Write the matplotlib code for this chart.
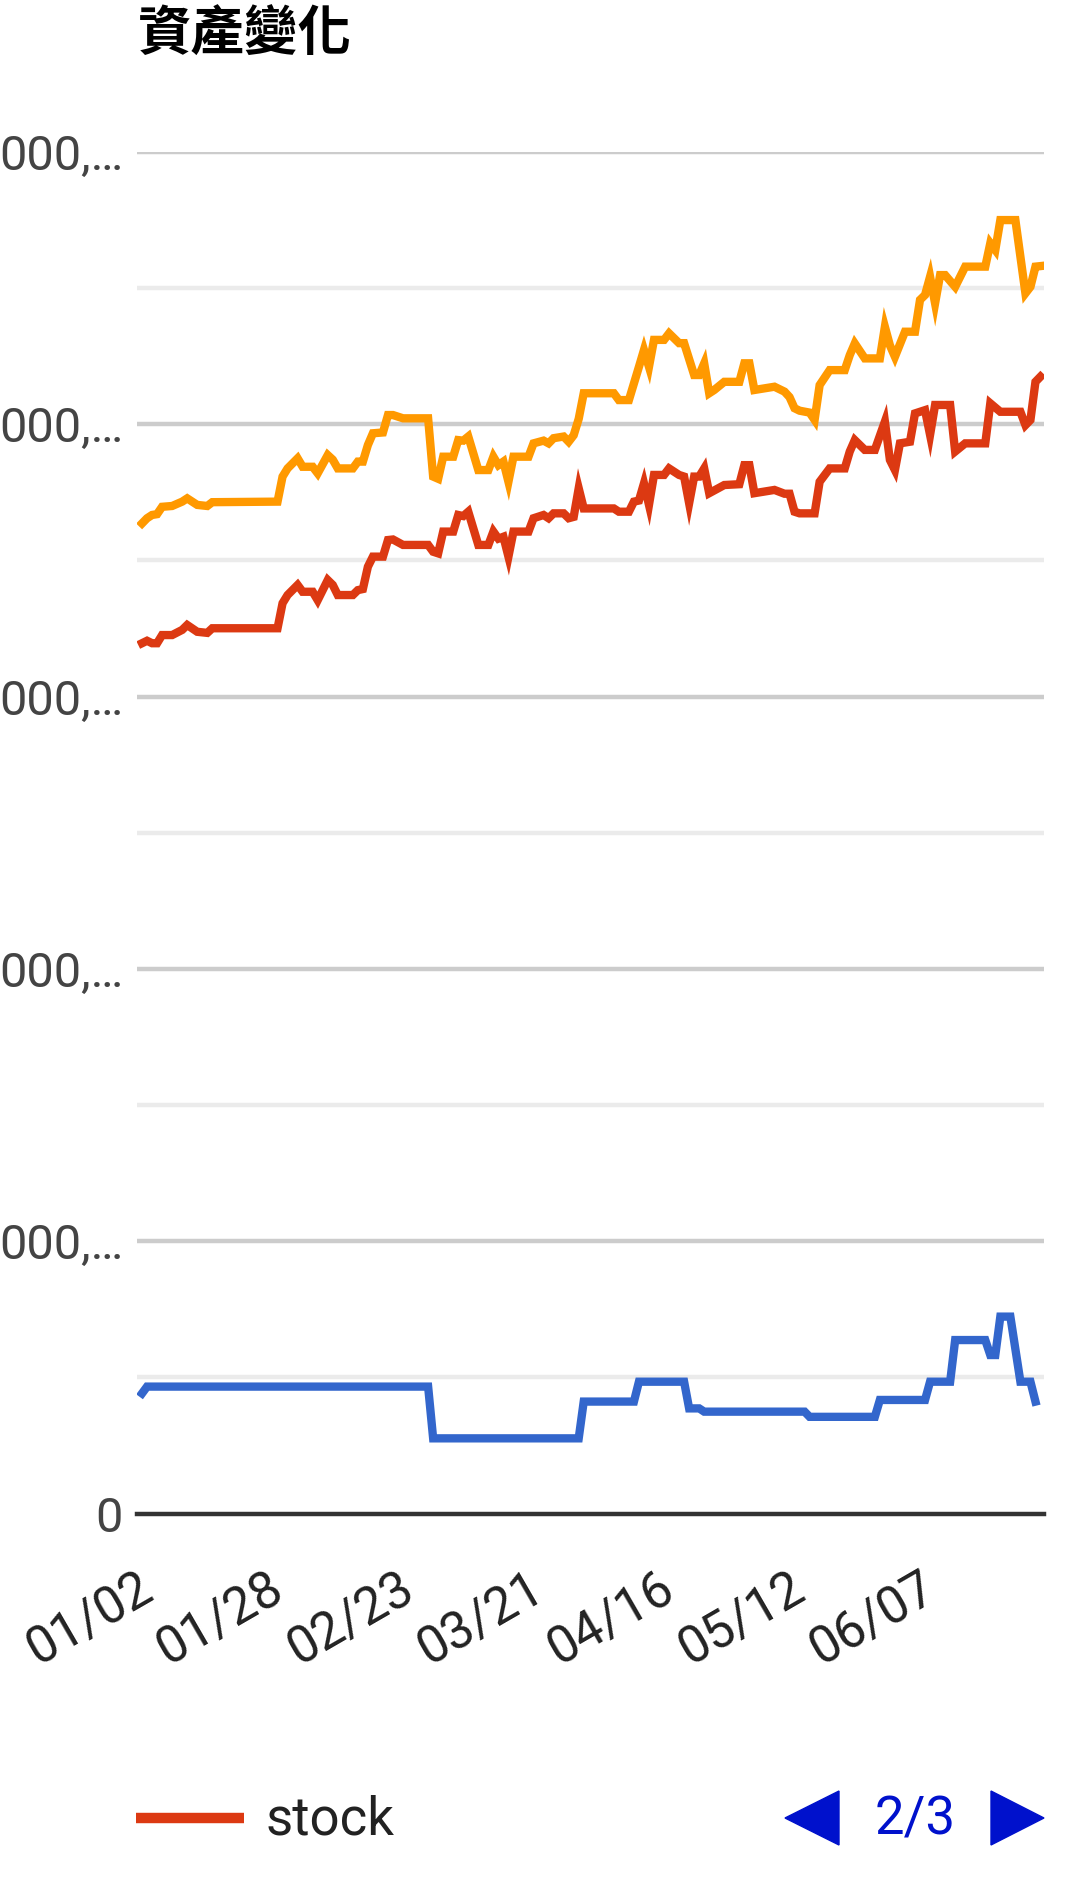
import matplotlib
matplotlib.use('Agg')
import matplotlib.pyplot as plt
from matplotlib.lines import Line2D
from matplotlib.patches import Polygon
from matplotlib.transforms import ScaledTranslation

plt.rcParams['font.family'] = ['Roboto', 'Noto Sans CJK TC', 'DejaVu Sans']

# days counted from 01/02, values in millions
total_days = [0, 1, 2, 3, 4, 6, 8, 9, 11, 13, 14, 27, 28, 29, 31, 32, 34, 35, 37, 38,
              39, 42, 43, 44, 45, 46, 48, 49, 50, 52, 57, 58, 59, 60, 62, 63, 64, 65, 67, 69,
              70, 71, 72, 73, 74, 77, 78, 80, 81, 82, 84, 85, 86, 87, 88, 94, 95, 97, 99, 100,
              101, 102, 104, 105, 107, 108, 110, 111, 112, 113, 114, 116, 119, 120, 121, 122, 126, 128, 129, 130,
              131, 133, 134, 135, 137, 140, 141, 142, 144, 147, 148, 149, 150, 152, 154, 155, 156, 157, 158, 159,
              160, 162, 163, 164, 168, 169, 170, 171, 174, 176, 177, 178, 179]
total_vals = [3.636, 3.655, 3.667, 3.670, 3.697, 3.700, 3.716, 3.728, 3.704, 3.700, 3.714, 3.716, 3.808, 3.838, 3.875, 3.844, 3.844, 3.820, 3.887, 3.870,
              3.838, 3.838, 3.863, 3.863, 3.924, 3.967, 3.970, 4.034, 4.034, 4.022, 4.022, 3.808, 3.800, 3.881, 3.881, 3.942, 3.940, 3.955, 3.832, 3.832,
              3.881, 3.850, 3.863, 3.789, 3.881, 3.881, 3.930, 3.940, 3.930, 3.949, 3.955, 3.936, 3.960, 4.020, 4.114, 4.114, 4.089, 4.089, 4.211, 4.273,
              4.211, 4.310, 4.310, 4.334, 4.298, 4.298, 4.181, 4.181, 4.224, 4.114, 4.126, 4.156, 4.156, 4.224, 4.224, 4.126, 4.138, 4.120, 4.100, 4.059,
              4.050, 4.043, 4.016, 4.144, 4.199, 4.199, 4.254, 4.297, 4.242, 4.242, 4.358, 4.290, 4.248, 4.340, 4.340, 4.457, 4.475, 4.542, 4.444, 4.548,
              4.548, 4.505, 4.542, 4.579, 4.579, 4.665, 4.640, 4.750, 4.750, 4.481, 4.505, 4.579, 4.581]

stock_days = [0, 1, 2, 3, 4, 6, 8, 9, 11, 13, 14, 27, 28, 29, 31, 32, 34, 35, 37, 38,
              39, 42, 43, 44, 45, 46, 48, 49, 50, 52, 57, 58, 59, 60, 62, 63, 64, 65, 67, 69,
              70, 71, 72, 73, 74, 77, 78, 80, 81, 82, 84, 85, 86, 87, 88, 94, 95, 97, 98, 99,
              100, 101, 102, 104, 105, 107, 108, 109, 110, 111, 112, 113, 116, 119, 120, 121, 122, 126, 128, 129,
              130, 131, 134, 135, 137, 140, 141, 142, 144, 146, 148, 149, 150, 151, 153, 154, 156, 157, 158, 161,
              162, 164, 168, 169, 171, 175, 176, 177, 178, 179]
stock_vals = [3.196, 3.205, 3.196, 3.196, 3.226, 3.226, 3.245, 3.263, 3.238, 3.234, 3.251, 3.251, 3.343, 3.373, 3.410, 3.385, 3.385, 3.354, 3.428, 3.410,
              3.373, 3.373, 3.391, 3.395, 3.477, 3.514, 3.514, 3.575, 3.577, 3.557, 3.557, 3.532, 3.526, 3.606, 3.606, 3.667, 3.663, 3.679, 3.557, 3.557,
              3.606, 3.580, 3.587, 3.514, 3.606, 3.606, 3.655, 3.667, 3.655, 3.673, 3.673, 3.655, 3.660, 3.765, 3.691, 3.691, 3.679, 3.679, 3.716, 3.720,
              3.783, 3.704, 3.814, 3.814, 3.838, 3.814, 3.808, 3.710, 3.808, 3.808, 3.838, 3.747, 3.777, 3.780, 3.850, 3.850, 3.747, 3.759, 3.745, 3.745,
              3.679, 3.673, 3.673, 3.789, 3.838, 3.838, 3.900, 3.942, 3.906, 3.906, 4.010, 3.869, 3.832, 3.930, 3.936, 4.040, 4.052, 3.961, 4.071, 4.071,
              3.900, 3.930, 3.930, 4.077, 4.046, 4.046, 3.997, 4.016, 4.156, 4.175]

cash_days = [0, 1, 57, 58, 87, 88, 98, 99, 108, 109, 111, 112, 132, 133, 146, 147, 156, 157, 161, 162,
             168, 169, 170, 171, 173, 175, 177, 178]
cash_vals = [0.441, 0.466, 0.466, 0.276, 0.276, 0.411, 0.411, 0.484, 0.484, 0.386, 0.386, 0.374, 0.374, 0.355, 0.355, 0.417, 0.417, 0.484, 0.484, 0.637,
             0.637, 0.582, 0.582, 0.723, 0.723, 0.484, 0.484, 0.411]

tick_days = [0, 26, 52, 78, 104, 130, 156]
tick_labels = ['01/02', '01/28', '02/23', '03/21', '04/16', '05/12', '06/07']
y_ticks = [0, 1, 2, 3, 4, 5]
# the screenshot only shows the truncated tail of the long labels
y_labels = ['0', '000,…', '000,…', '000,…', '000,…', '000,…']

W, H = 1080, 1887
fig = plt.figure(figsize=(W / 100, H / 100), dpi=100)
ax = fig.add_axes([137 / W, (H - 1513.5) / H, (1044 - 137) / W, (1513.5 - 152) / H])
ax.set_xlim(-1, 179.7)
ax.set_ylim(0, 5)

# gridlines
for v in [0.5, 1.5, 2.5, 3.5, 4.5]:
    ax.axhline(v, color='#ebebeb', lw=3.2, zorder=0)
for v in [1, 2, 3, 4, 5]:
    ax.axhline(v, color='#cccccc', lw=3.2, zorder=0)
ax.axhline(0, color='#333333', lw=3.2, zorder=1, clip_on=False)

ax.plot(cash_days, cash_vals, color='#3366cc', lw=6, solid_joinstyle='miter', zorder=2)
ax.plot(stock_days, stock_vals, color='#dc3912', lw=6, solid_joinstyle='miter', zorder=3)
ax.plot(total_days, total_vals, color='#ff9900', lw=6, solid_joinstyle='miter', zorder=4)

for s in ax.spines.values():
    s.set_visible(False)

ax.set_yticks(y_ticks)
ax.set_yticklabels(y_labels, fontsize=35, color='#444444')
ax.tick_params(axis='y', length=0, pad=10)

ax.set_xticks(tick_days)
ax.set_xticklabels(tick_labels, fontsize=37, color='#222222', rotation=30,
                   ha='right', va='top', rotation_mode='anchor')
ax.tick_params(axis='x', length=0, pad=36)
shift = ScaledTranslation(-6 / 100, 0, fig.dpi_scale_trans)
for lab in ax.get_xticklabels():
    lab.set_transform(lab.get_transform() + shift)

# title
fig.text(138 / W, 1 - 35 / H, '資產變化', fontsize=38.5, fontweight='bold',
         family=['Noto Sans CJK TC', 'DejaVu Sans'], va='center', ha='left', color='#000000')

# legend (page 2 of 3)
fig.add_artist(Line2D([136 / W, 244 / W], [1 - 1818 / H, 1 - 1818 / H], color='#dc3912', lw=7.5,
                      solid_capstyle='butt', transform=fig.transFigure))
fig.text(266 / W, 1 - 1820 / H, 'stock', fontsize=38, color='#222222', va='center', ha='left')

def fpt(x, y):
    return (x / W, 1 - y / H)

fig.add_artist(Polygon([fpt(785, 1818), fpt(839, 1791), fpt(839, 1845)], closed=True,
                       color='#0011cc', transform=fig.transFigure))
fig.add_artist(Polygon([fpt(991, 1791), fpt(991, 1845), fpt(1044, 1818)], closed=True,
                       color='#0011cc', transform=fig.transFigure))
fig.text(915 / W, 1 - 1820 / H, '2/3', fontsize=38, color='#0011cc', va='center', ha='center')

fig.savefig('out.png', dpi=100, facecolor='white')
